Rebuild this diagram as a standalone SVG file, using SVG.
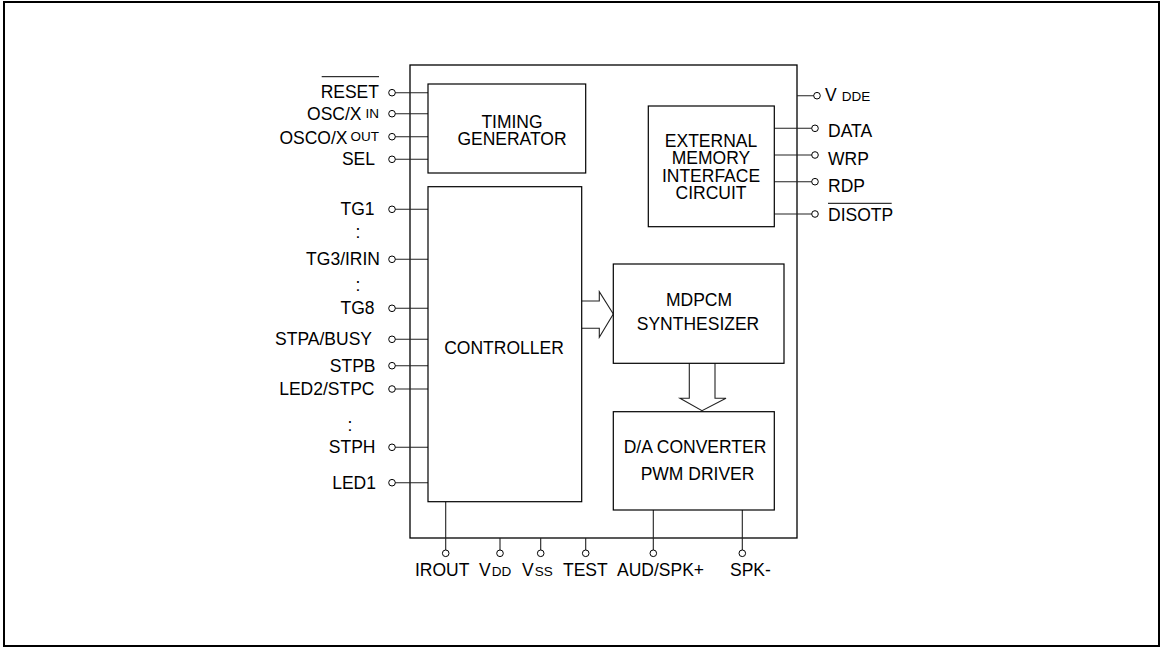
<svg xmlns="http://www.w3.org/2000/svg" width="1161" height="648" viewBox="0 0 1161 648">
<style>
.t{font-family:"Liberation Sans",Arial,sans-serif;font-size:17.5px;fill:#000}
.s{font-size:13.5px}
.e{text-anchor:end}
.m{text-anchor:middle}
.b{fill:#fff;stroke:#000;stroke-width:1.2}
.w{stroke:#222;stroke-width:1.1;fill:none}
.p{fill:#fff;stroke:#000;stroke-width:1}
</style>
<rect x="0" y="0" width="1161" height="648" fill="#fff"/>
<rect x="4" y="2" width="1155" height="644" fill="none" stroke="#000" stroke-width="2"/>
<g id="chip"><rect x="410" y="65" width="387" height="473" fill="none" stroke="#000" stroke-width="1.3"/></g>
<g id="connectors">
<path class="w" d="M395 92.7H428M395 113.7H428M395 136.7H428M395 159.3H428"/>
<path class="w" d="M395 209.3H428M395 259.3H428M395 308.3H428M395 339.3H428M395 365.7H428M395 389H428M395 447.3H428M395 482.7H428"/>
<path class="w" d="M797 95.7H814M774.3 128.3H812M774.3 155H812M774.3 181.7H812M774.3 214H812"/>
<path class="w" d="M445.7 501.7V550M500 538V550M540.7 538V550M585.7 538V550M653.3 510V550M742.3 510V550"/>
<path class="w" d="M581.7 301H599.3V291.7L613.3 314L599.3 337.3V328.3H581.7"/>
<path class="w" d="M689.3 363.3V398.3H680L702 410.7L726 398.3H715V363.3"/>
<g class="p">
<circle cx="392" cy="92.7" r="3.3"/><circle cx="392" cy="113.7" r="3.3"/><circle cx="392" cy="136.7" r="3.3"/><circle cx="392" cy="159.3" r="3.3"/>
<circle cx="392" cy="209.3" r="3.3"/><circle cx="392" cy="259.3" r="3.3"/><circle cx="392" cy="308.3" r="3.3"/><circle cx="392" cy="339.3" r="3.3"/>
<circle cx="392" cy="365.7" r="3.3"/><circle cx="392" cy="389" r="3.3"/><circle cx="392" cy="447.3" r="3.3"/><circle cx="392" cy="482.7" r="3.3"/>
<circle cx="817" cy="95.7" r="3.3"/><circle cx="815" cy="128.3" r="3.3"/><circle cx="815" cy="155" r="3.3"/><circle cx="815" cy="181.7" r="3.3"/><circle cx="815" cy="214" r="3.3"/>
<circle cx="445.7" cy="553.3" r="3.3"/><circle cx="500" cy="553.3" r="3.3"/><circle cx="540.7" cy="553.3" r="3.3"/><circle cx="585.7" cy="553.3" r="3.3"/><circle cx="653.3" cy="553.3" r="3.3"/><circle cx="742.3" cy="553.3" r="3.3"/>
</g>
</g>
<g id="timing"><rect class="b" x="428" y="84" width="157.7" height="89"/>
<text class="t m" x="512" y="128">TIMING</text><text class="t m" x="512" y="145">GENERATOR</text></g>
<g id="controller"><rect class="b" x="428" y="186.7" width="153.7" height="315"/>
<text class="t m" x="504" y="354">CONTROLLER</text></g>
<g id="emi"><rect class="b" x="648.3" y="106" width="126" height="120.7"/>
<text class="t m" x="711" y="146.7">EXTERNAL</text><text class="t m" x="711" y="164.3">MEMORY</text><text class="t m" x="711" y="182.3">INTERFACE</text><text class="t m" x="711" y="199">CIRCUIT</text></g>
<g id="mdpcm"><rect class="b" x="613.3" y="264" width="170.7" height="99.3"/>
<text class="t m" x="699" y="305.7">MDPCM</text><text class="t m" x="698" y="330">SYNTHESIZER</text></g>
<g id="dac"><rect class="b" x="613.3" y="411.7" width="161" height="98.3"/>
<text class="t m" x="695" y="453.3">D/A CONVERTER</text><text class="t m" x="697.5" y="480">PWM DRIVER</text></g>
<g id="left-pins">
<text class="t e" x="379" y="97.5">RESET</text>
<line x1="321.7" y1="76.7" x2="379" y2="76.7" stroke="#000" stroke-width="1"/>
<text class="t e" x="379" y="119.5">OSC/X<tspan class="s" dx="4" dy="-2">IN</tspan></text>
<text class="t e" x="379" y="143.5">OSCO/X<tspan class="s" dx="3" dy="-3">OUT</tspan></text>
<text class="t e" x="375" y="165">SEL</text>
<text class="t e" x="374.5" y="215">TG1</text>
<text class="t m" x="358" y="238">:</text>
<text class="t e" x="380" y="265">TG3/IRIN</text>
<text class="t m" x="358" y="291">:</text>
<text class="t e" x="374.5" y="314">TG8</text>
<text class="t e" x="372" y="345">STPA/BUSY</text>
<text class="t e" x="375.5" y="371.5">STPB</text>
<text class="t e" x="374.5" y="394.5">LED2/STPC</text>
<text class="t m" x="350" y="431">:</text>
<text class="t e" x="375.5" y="453">STPH</text>
<text class="t e" x="376" y="488.5">LED1</text>
</g>
<g id="right-pins">
<text class="t" x="825" y="100.7">V<tspan class="s" dx="5">DDE</tspan></text>
<text class="t" x="828" y="137.3">DATA</text>
<text class="t" x="828" y="165">WRP</text>
<text class="t" x="828" y="191.7">RDP</text>
<text class="t" x="828" y="220.7">DISOTP</text>
<line x1="828" y1="203.3" x2="891.7" y2="203.3" stroke="#000" stroke-width="1"/>
</g>
<g id="bottom-pins">
<text class="t" x="415" y="575.5">IROUT</text>
<text class="t" x="479" y="575.5">V<tspan class="s" dx="1">DD</tspan></text>
<text class="t" x="522" y="575.5">V<tspan class="s" dx="1">SS</tspan></text>
<text class="t" x="563" y="575.5">TEST</text>
<text class="t" x="617" y="575.5">AUD/SPK+</text>
<text class="t" x="730" y="575.5">SPK-</text>
</g>
</svg>
